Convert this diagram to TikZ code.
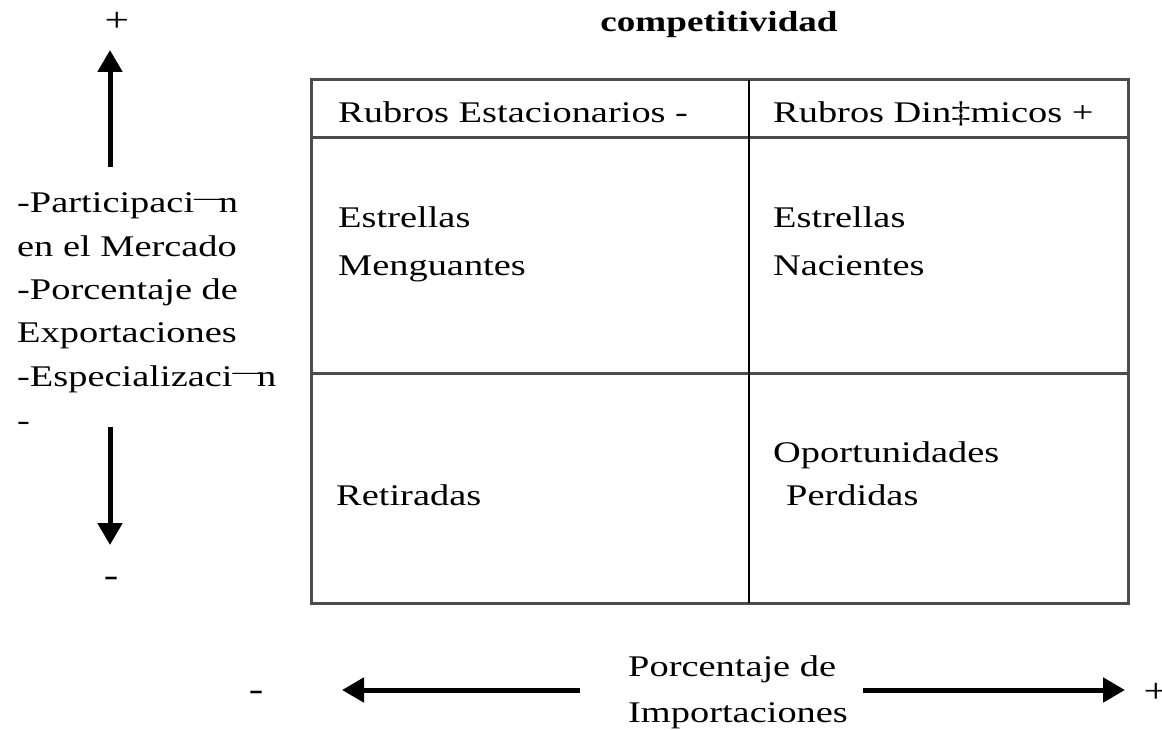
\documentclass[tikz,border=0pt]{standalone}
\usepackage{fontspec}
\setmainfont{Liberation Serif}[FakeStretch=1.28]
\usetikzlibrary{arrows.meta}
\newcommand{\odash}{{\fontsize{24}{24}\selectfont\raisebox{7pt}{—}}\kern-6pt}
\tikzset{
  txt/.style={inner sep=0pt, anchor=base west, font=\fontsize{30}{43}\selectfont},
  ctxt/.style={inner sep=0pt, anchor=base, font=\fontsize{30}{43}\selectfont},
  sign/.style={inner sep=0pt, anchor=center, font=\fontsize{34}{43}\selectfont},
  tbl/.style={line width=3pt, draw=black!70},
  midline/.style={line width=1.5pt, draw=black},
  bigarrow/.style={line width=5pt, -{Triangle[length=22pt,width=24pt]}}
}
\begin{document}
\begin{tikzpicture}[x=1pt,y=-1pt]
\useasboundingbox (0,0) rectangle (1162,730);
% table
\draw[tbl] (311,80) rectangle (1128,603);
\draw[tbl] (311,138) -- (1128,138);
\draw[tbl] (311,373) -- (1128,373);
\draw[midline] (749,80) -- (749,603);
% title
\node[ctxt, font=\fontsize{29}{35}\selectfont\bfseries] (title) at (719,32) {competitividad};
% header
\node[txt] (h1) at (338,123) {Rubros Estacionarios -};
\node[txt] (h2) at (773,123) {Rubros Din‡micos +};
% cells
\node[txt] (c1a) at (338,228) {Estrellas};
\node[txt] (c1b) at (338,276) {Menguantes};
\node[txt] (c2a) at (773,228) {Estrellas};
\node[txt] (c2b) at (773,276) {Nacientes};
\node[txt] (c3) at (336,505) {Retiradas};
\node[txt] (c4a) at (773,462) {Oportunidades};
\node[txt] (c4b) at (786,505) {Perdidas};
% left label
\node[txt] (l1) at (17,213) {-Participaci\odash n};
\node[txt] (l2) at (17,256) {en el Mercado};
\node[txt] (l3) at (17,299) {-Porcentaje de};
\node[txt] (l4) at (17,342) {Exportaciones};
\node[txt] (l5) at (17,386) {-Especializaci\odash n};
\node[txt] (l6) at (17,430) {-};
% vertical axis
\node[sign] (plusv) at (117,22) {+};
\node[sign] (minusv) at (111,582) {-};
\coordinate (upS) at (110,167);
\coordinate (upE) at (110,50);
\coordinate (dnS) at (110,427);
\coordinate (dnE) at (110,545);
\draw[bigarrow] (upS) -- (upE);
\draw[bigarrow] (dnS) -- (dnE);
% horizontal axis
\node[txt] (b1) at (628,676) {Porcentaje de};
\node[txt] (b2) at (628,722) {Importaciones};
\node[sign] (minush) at (256,696) {-};
\node[sign] (plush) at (1156,693) {+};
\coordinate (lS) at (580,690);
\coordinate (lE) at (342,690);
\coordinate (rS) at (863,690);
\coordinate (rE) at (1125,690);
\draw[bigarrow] (lS) -- (lE);
\draw[bigarrow] (rS) -- (rE);
\end{tikzpicture}
\end{document}
